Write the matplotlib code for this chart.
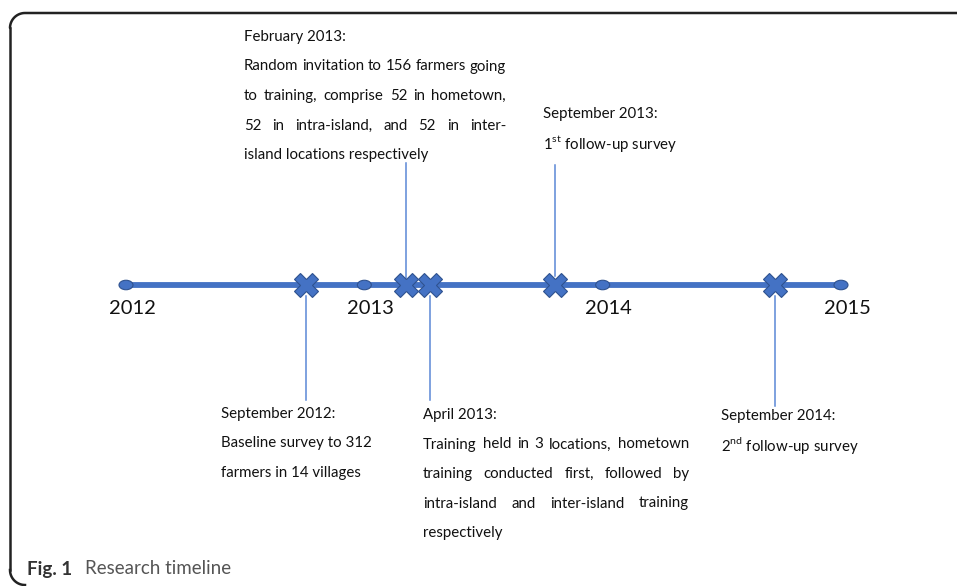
import numpy as np
import matplotlib.pyplot as plt
from matplotlib.patches import Ellipse

plt.rcParams['font.family'] = ['Lato', 'DejaVu Sans']
plt.rcParams['mathtext.fontset'] = 'custom'
plt.rcParams['mathtext.rm'] = 'Lato'

# Data (positions in years, as drawn on the timeline)
years = [2012, 2013, 2014, 2015]
event_x = [2012.755, 2013.175, 2013.276, 2013.80, 2014.723]

# text blocks: (left px, right px, first line y px, lines, justified lines)
blocks = [
    (221, 390, 414, ["September 2012:", "Baseline survey to 312", "farmers in 14 villages"], []),
    (244, 506, 37, ["February 2013:", "Random invitation to 156 farmers going",
                    "to training, comprise 52 in hometown,", "52 in intra-island, and 52 in inter-",
                    "island locations respectively"], [1, 2, 3]),
    (423, 689, 415, ["April 2013:", "Training held in 3 locations, hometown",
                     "training conducted first, followed by",
                     "intra-island and inter-island training", "respectively"], [1, 2, 3]),
    (543, 720, 114, ["September 2013:", r"1$^{\mathrm{st}}$ follow-up survey"], []),
    (721, 900, 416, ["September 2014:", r"2$^{\mathrm{nd}}$ follow-up survey"], []),
]
line_step = 29.5

# connector extents (px)
conn = [(296, 400), (163, 278), (296, 400), (165, 276), (296, 406)]

W, H = 957, 586
fig = plt.figure(figsize=(W / 100, H / 100), dpi=100)
ax = fig.add_axes([0, 0, 1, 1])
ppy = (841 - 126) / 3.0
ax.set_xlim(2012 - 126 / ppy, 2012 + (W - 126) / ppy)
ax.set_ylim(H, 0)
ax.axis('off')

# overlay in pixel units for frame and text
tx = fig.add_axes([0, 0, 1, 1], zorder=5)
tx.set_xlim(0, W)
tx.set_ylim(H, 0)
tx.axis('off')
tx.patch.set_alpha(0)

blue = '#4472C4'
dark = '#2F528F'
y_line = 285

# frame: rounded left corners, open on the right and bottom
r = 15
th = np.linspace(np.pi, 1.5 * np.pi, 20)
top_arc_x = 10 + r + r * np.cos(th)
top_arc_y = 13 + r + r * np.sin(th)
bot_arc_x = 10 + r + r * np.cos(th[::-1] - np.pi / 2)
bot_arc_y = 585 - r - r * np.sin(th[::-1] - np.pi / 2)
fx_ = np.concatenate([[W + 5], top_arc_x[::-1], bot_arc_x[::-1][::-1]])
fy_ = np.concatenate([[13], top_arc_y[::-1], bot_arc_y[::-1][::-1]])
tx.plot(np.concatenate([[W + 5], top_arc_x[::-1]]), np.concatenate([[13], top_arc_y[::-1]]),
        color='#222222', lw=1.8, solid_capstyle='round')
tx.plot([10, 10], [13 + r, 585 - r], color='#222222', lw=1.8)
bx = 10 + r - r * np.cos(np.linspace(0, np.pi / 2, 20))
by = 585 - r + r * np.sin(np.linspace(0, np.pi / 2, 20))
tx.plot(bx, by, color='#222222', lw=1.8)

ax.plot([years[0], years[-1]], [y_line, y_line], color=blue, lw=4.2,
        solid_capstyle='butt', zorder=2)

for yr in years:
    ax.add_patch(Ellipse((yr, y_line), 14 / ppy, 9.5, facecolor=blue,
                         edgecolor=dark, lw=0.8, zorder=3))
    ax.text(yr + 6 / ppy, y_line + 23, str(yr), fontsize=14.5,
            ha='center', va='center', color='#111111')

for x, (c0, c1) in zip(event_x, conn):
    ax.plot([x, x], [c0, c1], color='#5B87D6', lw=1.1, zorder=1)

ax.plot(event_x, [y_line] * len(event_x), linestyle='none', marker='X',
        markersize=17, markerfacecolor=blue, markeredgecolor=dark,
        markeredgewidth=0.8, zorder=4)

fig.canvas.draw()
renderer = fig.canvas.get_renderer()

# pick font size so the widest natural line matches the reference width
probe = tx.text(0, 0, "Random invitation to 156 farmers going", fontsize=10)
fs = 10 * 262 / probe.get_window_extent(renderer).width
probe.remove()

for left, right, y0, lines, just in blocks:
    for i, line in enumerate(lines):
        y = y0 + i * line_step
        if i in just:
            words = line.split(' ')
            objs = [tx.text(0, y, w, fontsize=fs, va='center', color='#111111')
                    for w in words]
            widths = [o.get_window_extent(renderer).width for o in objs]
            gap = (right - left - sum(widths)) / (len(words) - 1)
            pos = left
            for o, w in zip(objs, widths):
                o.set_x(pos)
                pos += w + gap
        else:
            tx.text(left, y, line, fontsize=fs, va='center', color='#111111')

tx.text(27, 569, 'Fig. 1', fontsize=13.5, fontweight='bold',
        va='center', color='#333333')
tx.text(85, 569, 'Research timeline', fontsize=13.5,
        va='center', color='#555555')

fig.savefig('out.png', dpi=100)
